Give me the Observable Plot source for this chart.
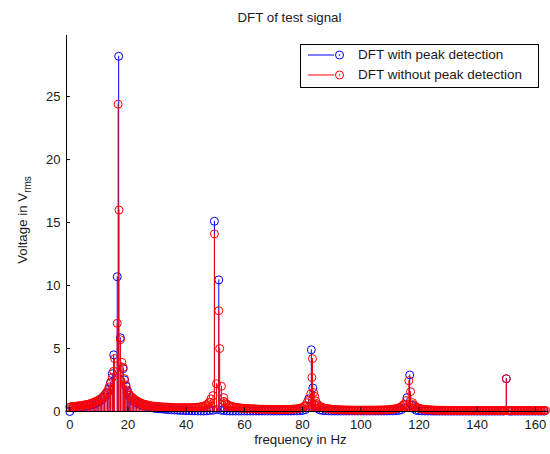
<!DOCTYPE html>
<html><head><meta charset="utf-8">
<script src="https://cdn.jsdelivr.net/npm/d3@7"></script>
<script src="https://cdn.jsdelivr.net/npm/@observablehq/plot@0.6"></script>
<style>
body{margin:0;background:#fff;font-family:"Liberation Sans",Arial,Helvetica,sans-serif;color:#1a1a1a;}
#wrap{position:relative;width:550px;height:454px;overflow:hidden;}
#title{position:relative;height:28px;}
#title span{position:absolute;left:0;width:579px;top:10px;text-align:center;font-size:13.3px;line-height:16px;}
#ylabel{position:absolute;left:24px;top:220px;transform:translate(-50%,-50%) rotate(-90deg);white-space:nowrap;font-size:13.3px;}
#ylabel sub{font-size:10px;}
#legend{position:absolute;left:300px;top:44px;width:237px;height:42px;border:1px solid #000;background:#fff;}
#legend .t{position:absolute;left:57px;font-size:13.5px;line-height:16px;white-space:nowrap;}
</style></head><body>
<div id="wrap">
  <div id="title"><span>DFT of test signal</span></div>
  <div id="chart"></div>
  <div id="ylabel">Voltage in V<sub>rms</sub></div>
  <div id="legend">
    <svg width="50" height="42" style="position:absolute;left:0;top:0">
      <line x1="7" y1="10" x2="33" y2="10" stroke="#0000ff"/>
      <circle cx="38.5" cy="10" r="4" fill="none" stroke="#0000ff"/>
      <circle cx="38.5" cy="10" r="0.8" fill="#0000ff"/>
      <line x1="7" y1="30" x2="33" y2="30" stroke="#ff0000"/>
      <circle cx="38.5" cy="30" r="4" fill="none" stroke="#ff0000"/>
      <circle cx="38.5" cy="30" r="0.8" fill="#ff0000"/>
    </svg>
    <div class="t" style="top:2px">DFT with peak detection</div>
    <div class="t" style="top:22px">DFT without peak detection</div>
  </div>
</div>
<script>
// Tick labels
const xTicks = [0, 20, 40, 60, 80, 100, 120, 140, 160];
const yTicks = [0, 5, 10, 15, 20, 25];
const xDomain = [-1.13, 164.5];
const yDomain = [0, 29.85];

// Blue baseline at 1 Hz bins (index = Hz); null where the peak detail applies
const blueBase = [
  0, .28, .30, .33, .36, .40, .44, .50, .57, .66, .77, .92, 1.15, 1.50,
  null, null, null, null, null, null, null,
  1.00, .82, .68, .56, .47, .40, .34, .30, .26, .23, .21, .19, .17, .15, .13, .12, .10, .09, .08, .07, .06, .05, .05, .04, .04, .04, .05, .08,
  null, null, null, null,
  .08, .05, .04, .04, .04, .04, .04, .04, .04, .04,
  .04, .04, .04, .04, .04, .04, .04, .04, .04, .04,
  .04, .04, .04, .04, .05, .05, .06, .08, .15,
  null, null, null,
  .25, .12, .08, .06, .05, .04, .04, .04, .04, .04,
  .04, .04, .04, .04, .04, .04, .04, .04, .04, .04,
  .04, .04, .04, .04, .04, .05, .05, .06, .08, .15, .30,
  null, null,
  .25, .10, .06, .05, .04, .04, .04, .03, .03, .03,
  .03, .03, .03, .03, .03, .03, .03, .03, .03, .03,
  .03, .03, .03, .03, .03, .03, .03, .03, .03, .03,
  .03, .03, 2.6,
  .03, .03, .03, .03, .03, .03, .03, .03, .03, .03, .03, .03, .03
];
// Red baseline at 1 Hz bins (index = Hz)
const redBase = [
  .35, .40, .42, .45, .48, .52, .56, .62, .70, .80, .92, 1.08, 1.32, 1.65,
  null, null, null, null, null, null, null,
  1.20, 1.00, .85, .72, .62, .55, .50, .45, .42, .40, .38, .36, .35, .33, .32, .31, .30, .30, .30, .30, .30, .31, .32, .34, .37, .42, .52, .75,
  null, null, null, null,
  .80, .58, .45, .38, .33, .30, .27, .25, .24, .22, .21, .20, .19, .18, .18, .17, .17, .16, .16, .16, .16, .17, .17, .18, .19, .21, .25, .32, .48,
  null, null, null,
  .60, .40, .30, .25, .21, .18, .16, .15, .14, .13, .12, .12, .11, .11, .11, .11, .11, .11, .11, .11, .11, .12, .12, .13, .14, .16, .18, .22, .28, .40, .60,
  null, null,
  .55, .35, .25, .20, .17, .15, .13, .12, .11, .10,
  .10, .09, .09, .09, .09, .08, .08, .08, .08, .08,
  .08, .08, .08, .08, .08, .08, .08, .08, .08, .08,
  .08, .08, 2.6,
  .08, .08, .08, .08, .08, .08, .08, .08, .08, .08, .08, .08, .08
];
// Red half bins (index + 0.5 Hz)
const redHalf = [
  .38, .41, .43, .46, .50, .54, .59, .66, .75, .86, 1.0, 1.2, 1.48,
  null, null, null, null, null, null, null,
  1.3,
  1.1, .92, .78, .67, .58, .52, .47, .43, .41, .39, .37, .35, .34, .32, .31, .30, .30, .30, .30, .30, .30, .31, .33, .35, .40, .47, .62,
  1.0,
  null, null, null, null,
  .68, .50, .41, .35, .31, .28, .26, .24, .23, .21, .20, .19, .18, .18, .17, .17, .16, .16, .16, .16, .16, .17, .17, .18, .20, .23, .28, .40,
  .70,
  null, null,
  .85,
  .50, .35, .27, .23, .19, .17, .15, .14, .13, .12, .12, .11, .11, .11, .11, .11, .11, .11, .11, .11, .11, .12, .12, .13, .15, .17, .20, .25, .33, .50,
  null, null, null,
  .45, .30, .22, .18, .16, .14, .12, .11, .10, .10,
  .09, .09, .09, .09, .08, .08, .08, .08, .08, .08,
  .08, .08, .08, .08, .08, .08, .08, .08, .08, .08,
  .08, .08,
  .08,
  .08, .08, .08, .08, .08, .08, .08, .08, .08, .08, .08, .08,
  .08
];

// Fine-resolution points around the harmonics
const bluePeakF = [13.5, 14.0, 14.6, 15.1, 16.3, 16.8, 17.4, 18.35, 18.8, 19.3, 19.8, 20.3,
  49.2, 49.7, 50.4, 51.2, 52.0, 82.1, 83.0, 83.5, 84.3, 115.9, 116.8, 117.6];
const bluePeakV = [1.8, 2.3, 3.0, 4.5, 10.7, 28.2, 5.85, 3.4, 2.5, 2.0, 1.6, 1.3,
  0.1, 15.1, 0.15, 10.45, 0.1, 1.0, 4.9, 1.87, 0.5, 1.1, 2.9, 0.5];
const redPeakF = [13.5, 14.0, 14.6, 15.1, 15.4, 16.3, 16.6, 16.9, 17.4, 17.9, 18.35, 18.8, 19.3, 19.8, 20.3,
  49.2, 49.7, 50.4, 51.2, 51.5, 52.1, 52.9, 82.2, 82.8, 83.2, 83.4, 83.8, 84.2, 115.7, 116.5, 117.1, 117.8];
const redPeakV = [1.95, 2.25, 2.7, 3.2, 4.2, 7.0, 24.4, 16.0, 5.7, 3.9, 3.5, 2.6, 2.1, 1.7, 1.4,
  1.26, 14.1, 2.2, 8.0, 5.0, 2.0, 1.1, 0.9, 1.4, 2.7, 4.2, 1.5, 1.2, 0.87, 2.44, 1.57, 0.7];

function addBins(out, arr, offset) {
  arr.forEach((v, i) => { if (v != null) out.push({f: i + offset, v}); });
}
function build(bases, pf, pv) {
  const out = [];
  bases.forEach(([arr, off]) => addBins(out, arr, off));
  pf.forEach((f, i) => out.push({f, v: pv[i]}));
  return out.sort((a, b) => a.f - b.f);
}
const blue = build([[blueBase, 0]], bluePeakF, bluePeakV);
const red = build([[redBase, 0], [redHalf, 0.5]], redPeakF, redPeakV);

const BLUE = "#0000ff", RED = "#ff0000";
const chart = Plot.plot({
  width: 550, height: 426,
  marginLeft: 66, marginRight: 2, marginTop: 7, marginBottom: 43,
  x: {domain: xDomain},
  y: {domain: yDomain},
  style: {fontFamily: '"Liberation Sans", Arial, sans-serif', fontSize: "13px", color: "#1a1a1a", background: "#fff"},
  marks: [
    Plot.ruleX(blue, {x: "f", y1: 0, y2: "v", stroke: BLUE, strokeWidth: 1}),
    Plot.dot(blue, {x: "f", y: "v", r: 4, stroke: BLUE, strokeWidth: 1}),
    Plot.ruleX(red, {x: "f", y1: 0, y2: "v", stroke: RED, strokeWidth: 1}),
    Plot.dot(red, {x: "f", y: "v", r: 4, stroke: RED, strokeWidth: 1}),
    Plot.ruleY([yDomain[0]], {stroke: "#000"}),
    Plot.ruleX([xDomain[0]], {stroke: "#000"}),
    Plot.axisX(xTicks, {tickSize: -4, tickPadding: 12, label: null, stroke: "#000"}),
    Plot.axisY(yTicks, {tickSize: -4, tickPadding: 10, label: null, stroke: "#000"}),
    Plot.text(["frequency in Hz"], {frameAnchor: "bottom", dy: 32, dx: -7, fontSize: 13.3, fill: "#1a1a1a"})
  ]
});
document.getElementById("chart").appendChild(chart);
</script>
</body></html>
